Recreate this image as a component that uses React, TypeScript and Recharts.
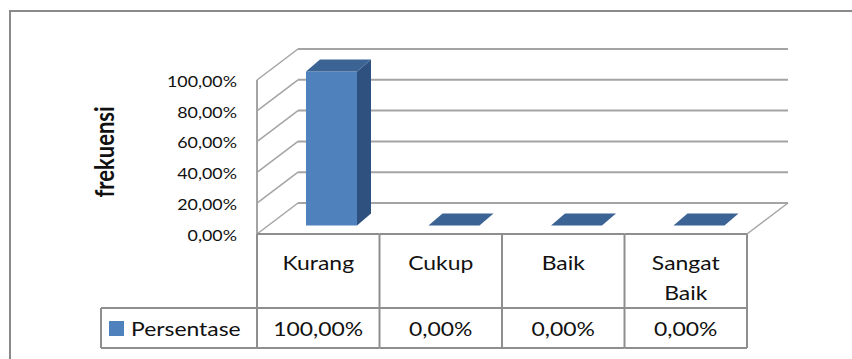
import React from 'react';
import { BarChart, Bar, XAxis, YAxis, CartesianGrid } from 'recharts';

// data
const categories = ['Kurang', 'Cukup', 'Baik', 'Sangat Baik'];
const persentase = [1, 0, 0, 0];
const yTicks = [0, 0.2, 0.4, 0.6, 0.8, 1];
const seriesName = 'Persentase';
const axisTitle = 'frekuensi';

const data = categories.map((name, i) => ({ name, value: persentase[i] }));

const FONT = 'Lato, Calibri, Carlito, sans-serif';
const GRID = '#a4a4a4';
const LINE = '#8e8e8e';
const BLUE = '#4f81bd';
const BLUE_TOP = '#3b6394';
const BLUE_SIDE = '#2f5180';

// fake 3d: offset of the back wall and of the columns
const DEPTH_X = 41;
const DEPTH_Y = -31;
const BAR_SHIFT_X = 13;
const BAR_SHIFT_Y = -8.5;
const BAR_DEPTH_X = 14;
const BAR_DEPTH_Y = -12;
// the source image is stretched sideways a bit
const STRETCH = 1.23;

const fmt = (v: number) => (v * 100).toFixed(2).replace('.', ',') + '%';

const WallLine = (props: any) => {
  const { x1, x2, y1, index } = props;
  const bx1 = x1 + DEPTH_X;
  const bx2 = x2 + DEPTH_X;
  const by = y1 + DEPTH_Y;
  return (
    <g key={`wall-${index}`}>
      <line x1={x1} y1={y1} x2={bx1} y2={by} stroke={GRID} strokeWidth={1.5} />
      <line x1={bx1} y1={by} x2={bx2} y2={by} stroke={GRID} strokeWidth={2} />
    </g>
  );
};

const YTick = ({ x, y, payload }: any) => (
  <g transform={`translate(${x},${y + 1}) scale(${STRETCH},1)`}>
    <text textAnchor="end" dominantBaseline="central" fontFamily={FONT} fontSize={14.5} fill="#111">
      {fmt(payload.value)}
    </text>
  </g>
);

const Stretched = ({ x, y, size, children }: any) => (
  <g transform={`translate(${x},${y}) scale(${STRETCH * 0.98},1)`}>
    <text textAnchor="middle" dominantBaseline="central" fontFamily={FONT} fontSize={size} fill="#111">
      {children}
    </text>
  </g>
);

const TableCell = ({ x, y, payload, index }: any) => {
  const i = payload?.index ?? index ?? 0;
  const half = payload?.offset || 61.25;
  const left = x - half;
  const right = x + half;
  const rowTop = y + 74;
  const bottom = y + 114;
  const lines = String(payload.value).split(' ');
  const last = i === categories.length - 1;
  return (
    <g>
      <line x1={left} y1={y} x2={right} y2={y} stroke={LINE} strokeWidth={2} />
      <line x1={left} y1={y} x2={left} y2={bottom} stroke={LINE} strokeWidth={2} />
      <line x1={left} y1={rowTop} x2={right} y2={rowTop} stroke={LINE} strokeWidth={2} />
      <line x1={left} y1={bottom} x2={right} y2={bottom} stroke={LINE} strokeWidth={2} />
      {last && (
        <>
          <line x1={right} y1={y} x2={right} y2={bottom} stroke={LINE} strokeWidth={2} />
          <line x1={right} y1={y} x2={right + DEPTH_X} y2={y + DEPTH_Y} stroke={GRID} strokeWidth={1.5} />
        </>
      )}
      {lines.map((t: string, k: number) => (
        <Stretched key={t} x={x} y={y + 28 + k * 30} size={19}>
          {t}
        </Stretched>
      ))}
      <Stretched x={x} y={rowTop + 20} size={19}>
        {fmt(persentase[i])}
      </Stretched>
      {i === 0 && (
        <g>
          <line x1={left - 156} y1={rowTop} x2={left} y2={rowTop} stroke={LINE} strokeWidth={2} />
          <line x1={left - 156} y1={bottom} x2={left} y2={bottom} stroke={LINE} strokeWidth={2} />
          <line x1={left - 156} y1={rowTop} x2={left - 156} y2={bottom} stroke={LINE} strokeWidth={2} />
          <rect x={left - 148} y={rowTop + 13} width={15} height={15} fill={BLUE} />
          <g transform={`translate(${left - 126},${rowTop + 20}) scale(${STRETCH * 0.98},1)`}>
            <text dominantBaseline="central" fontFamily={FONT} fontSize={19} fill="#111">
              {seriesName}
            </text>
          </g>
        </g>
      )}
    </g>
  );
};

const Column3D = (props: any) => {
  const { x, y, width, height } = props;
  if (x == null || y == null) return null;
  const fx = x + BAR_SHIFT_X;
  const fy = y + BAR_SHIFT_Y;
  const w = width;
  const h = Math.max(0, height || 0);
  const top = `${fx},${fy} ${fx + w},${fy} ${fx + w + BAR_DEPTH_X},${fy + BAR_DEPTH_Y} ${fx + BAR_DEPTH_X},${fy + BAR_DEPTH_Y}`;
  const side = `${fx + w},${fy} ${fx + w + BAR_DEPTH_X},${fy + BAR_DEPTH_Y} ${fx + w + BAR_DEPTH_X},${fy + BAR_DEPTH_Y + h} ${fx + w},${fy + h}`;
  return (
    <g>
      {h > 0 && <rect x={fx} y={fy} width={w} height={h} fill={BLUE} />}
      {h > 0 && <polygon points={side} fill={BLUE_SIDE} />}
      <polygon points={top} fill={BLUE_TOP} />
    </g>
  );
};

const AxisTitle = (props: any) => {
  const vb = props.viewBox || { x: 0, y: 80, width: 257, height: 154 };
  const cy = vb.y + vb.height / 2 - 5;
  return (
    <g transform={`translate(104,${cy}) scale(${STRETCH},1) rotate(-90)`}>
      <text textAnchor="middle" dominantBaseline="central" fontFamily={FONT} fontWeight={700} fontSize={22} fill="#111">
        {axisTitle}
      </text>
    </g>
  );
};

export default function App() {
  return (
    <div style={{ position: 'relative', width: 852, height: 359, overflow: 'hidden', background: '#fff' }}>
      <style>{'body{margin:0}'}</style>
      <div
        style={{
          position: 'absolute',
          left: 9,
          top: 10,
          width: 1000,
          height: 1000,
          border: '2px solid #8a8a8a',
        }}
      />
      <div style={{ position: 'absolute', left: 0, top: 0 }}>
        <BarChart
          width={852}
          height={359}
          data={data}
          margin={{ top: 80, right: 105, bottom: 11, left: 0 }}
        >
          <CartesianGrid vertical={false} horizontal={WallLine} />
          <YAxis
            width={257}
            domain={[0, 1]}
            ticks={yTicks}
            interval={0}
            axisLine={{ stroke: GRID, strokeWidth: 2 }}
            tickLine={false}
            tickSize={6}
            tickMargin={14}
            tick={<YTick />}
            label={<AxisTitle />}
          />
          <XAxis
            dataKey="name"
            height={114}
            axisLine={false}
            tickLine={false}
            tickSize={0}
            tickMargin={0}
            interval={0}
            tick={<TableCell />}
          />
          <Bar dataKey="value" name={seriesName} barSize={51} shape={<Column3D />} isAnimationActive={false} />
        </BarChart>
      </div>
    </div>
  );
}
